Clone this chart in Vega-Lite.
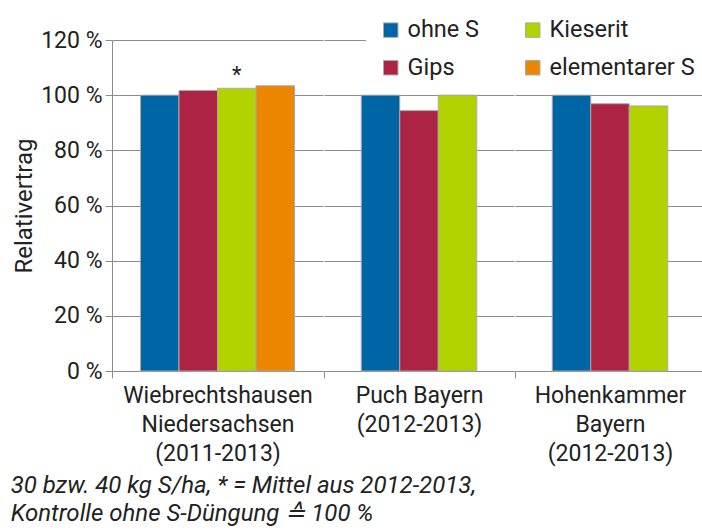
{
  "$schema": "https://vega.github.io/schema/vega-lite/v6.json",
  "background": "white",
  "padding": {"left": 10, "top": 5, "right": 0, "bottom": 0},
  "datasets": {
    "bars": [
      {"group": "W", "treatment": "ohne S", "value": 100, "note": ""},
      {"group": "W", "treatment": "Gips", "value": 101.7, "note": ""},
      {"group": "W", "treatment": "Kieserit", "value": 102.5, "note": "*"},
      {"group": "W", "treatment": "elementarer S", "value": 103.4, "note": ""},
      {"group": "P", "treatment": "ohne S", "value": 100, "note": ""},
      {"group": "P", "treatment": "Gips", "value": 94.4, "note": ""},
      {"group": "P", "treatment": "Kieserit", "value": 100, "note": ""},
      {"group": "H", "treatment": "ohne S", "value": 100, "note": ""},
      {"group": "H", "treatment": "Gips", "value": 96.9, "note": ""},
      {"group": "H", "treatment": "Kieserit", "value": 96.1, "note": ""}
    ]
  },
  "spacing": 0,
  "title": {
    "text": ["30 bzw. 40 kg S/ha, * = Mittel aus 2012-2013,", "Kontrolle ohne S-Düngung ≙ 100 %"],
    "orient": "bottom",
    "anchor": "start",
    "frame": "bounds",
    "fontStyle": "italic",
    "fontWeight": "normal",
    "fontSize": 24,
    "lineHeight": 28,
    "color": "#222222",
    "offset": 8,
    "dx": -2
  },
  "hconcat": [
    {
      "width": 211,
      "height": 331,
      "data": {"name": "bars"},
      "transform": [{"filter": "datum.group === 'W'"}],
      "layer": [
        {
          "mark": {"type": "bar", "stroke": "#ababab", "strokeWidth": 1},
          "encoding": {
            "x": {"field": "treatment", "type": "nominal", "sort": ["ohne S", "Gips", "Kieserit", "elementarer S"],
              "scale": {"paddingInner": 0, "paddingOuter": 0.74},
              "axis": {"title": ["Wiebrechtshausen", "Niedersachsen", "(2011-2013)"], "labels": false, "values": ["ohne S"], "bandPosition": -0.74}},
            "y": {"field": "value", "type": "quantitative", "scale": {"domain": [0, 120]},
              "axis": {"title": "Relativertrag", "values": [0, 20, 40, 60, 80, 100, 120], "labelExpr": "datum.value + ' %'", "grid": true, "ticks": true, "tickSize": 7, "labels": true, "domain": true, "labelFontSize": 23, "labelPadding": 3, "titleFontSize": 24, "titlePadding": 4}},
            "color": {"field": "treatment", "type": "nominal",
              "scale": {"domain": ["ohne S", "Gips", "Kieserit", "elementarer S"], "range": ["#0065a4", "#ad2343", "#b3d300", "#ec8500"]},
              "legend": {"orient": "none", "legendX": 254, "legendY": -35, "columns": 2, "title": null, "fillColor": "white", "padding": 13, "symbolType": "square", "symbolSize": 210, "symbolStrokeColor": "#ababab", "symbolStrokeWidth": 1, "symbolOpacity": 1, "labelFontSize": 23.5, "labelColor": "#222222", "labelOffset": 5, "columnPadding": 41, "rowPadding": 13}}
          }
        },
        {
          "transform": [{"filter": "datum.note !== ''"}],
          "mark": {"type": "text", "baseline": "bottom", "dy": -1, "fontSize": 22, "color": "#222222"},
          "encoding": {
            "x": {"field": "treatment", "type": "nominal", "sort": ["ohne S", "Gips", "Kieserit", "elementarer S"]},
            "y": {"field": "value", "type": "quantitative"},
            "text": {"field": "note"}
          }
        }
      ]
    },
    {
      "width": 190,
      "height": 331,
      "data": {"name": "bars"},
      "transform": [{"filter": "datum.group === 'P'"}],
      "mark": {"type": "bar", "stroke": "#ababab", "strokeWidth": 1},
      "encoding": {
        "x": {"field": "treatment", "type": "nominal", "sort": ["ohne S", "Gips", "Kieserit"],
          "scale": {"paddingInner": 0, "paddingOuter": 0.9675},
          "axis": {"title": ["Puch Bayern", "(2012-2013)"], "labels": false, "values": ["ohne S"], "bandPosition": -0.9675}},
        "y": {"field": "value", "type": "quantitative", "scale": {"domain": [0, 120]},
          "axis": {"title": null, "values": [0, 20, 40, 60, 80, 100, 120], "grid": true, "labels": false, "ticks": false, "domain": false}},
        "color": {"field": "treatment", "type": "nominal", "scale": {"domain": ["ohne S", "Gips", "Kieserit", "elementarer S"], "range": ["#0065a4", "#ad2343", "#b3d300", "#ec8500"]}}
      }
    },
    {
      "width": 190,
      "height": 331,
      "data": {"name": "bars"},
      "transform": [{"filter": "datum.group === 'H'"}],
      "mark": {"type": "bar", "stroke": "#ababab", "strokeWidth": 1},
      "encoding": {
        "x": {"field": "treatment", "type": "nominal", "sort": ["ohne S", "Gips", "Kieserit"],
          "scale": {"paddingInner": 0, "paddingOuter": 0.9675},
          "axis": {"title": ["Hohenkammer", "Bayern", "(2012-2013)"], "labels": false, "values": ["ohne S"], "bandPosition": -0.9675}},
        "y": {"field": "value", "type": "quantitative", "scale": {"domain": [0, 120]},
          "axis": {"title": null, "values": [0, 20, 40, 60, 80, 100, 120], "grid": true, "labels": false, "ticks": false, "domain": false}},
        "color": {"field": "treatment", "type": "nominal", "scale": {"domain": ["ohne S", "Gips", "Kieserit", "elementarer S"], "range": ["#0065a4", "#ad2343", "#b3d300", "#ec8500"]}}
      }
    }
  ],
  "resolve": {"scale": {"x": "independent"}},
  "config": {
    "font": "Roboto",
    "view": {"stroke": null},
    "axis": {
      "domainColor": "#8c8c8c",
      "tickColor": "#8c8c8c",
      "gridColor": "#8c8c8c",
      "gridWidth": 1,
      "domainWidth": 1,
      "labelColor": "#222222",
      "titleColor": "#222222",
      "titleFontWeight": "normal"
    },
    "axisX": {"tickSize": 7, "titleFontSize": 23, "titleLineHeight": 29, "titlePadding": 6, "titleBaseline": "top"},
    "legend": {"labelFont": "Roboto"}
  }
}
